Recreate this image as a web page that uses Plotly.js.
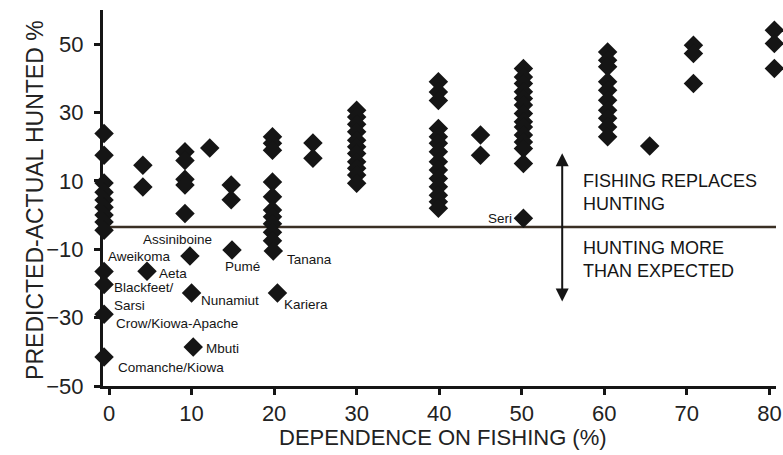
<!DOCTYPE html>
<html>
<head>
<meta charset="utf-8">
<script src="https://cdn.plot.ly/plotly-3.0.1.min.js"></script>
<style>html,body{margin:0;padding:0;background:#fff;}#chart{width:783px;height:455px;}</style>
</head>
<body>
<div id="chart"></div>
<script>
// Fishing dependence (%) of each column of societies
const fishPct = [-0.6, 4.1, 9.2, 12.2, 14.8, 19.8, 24.7, 30, 39.9, 45, 50.2, 60.4, 65.5, 70.8, 80.6];
// Predicted-actual hunted % for each column (unlabelled societies)
const hunt0  = [23.9, 17.5, 9.4, 6.7, 4.4, 2.3, 0, -2, -4.4];
const hunt4  = [14.6, 8.2];
const hunt9  = [18.5, 16, 10.5, 8.8, 0.5];
const hunt12 = [19.6];
const hunt15 = [8.8, 4.5];
const hunt20 = [22.9, 21, 19, 9.7, 5.4, 1.5, -0.5, -2.5, -5, -7.5];
const hunt25 = [21.1, 16.6];
const hunt30 = [30.7, 28.7, 26.6, 24.4, 21.9, 20, 18, 15.6, 13.7, 11.7, 9.3];
const hunt40 = [39, 36, 33.5, 25.3, 22.9, 21, 18.5, 15.6, 13.2, 10.7, 8.3, 5.8, 3.9, 2.0];
const hunt45 = [23.4, 17.5];
const hunt50 = [42.9, 40.4, 38.5, 36.1, 34.1, 32.2, 29.7, 27.3, 25.8, 23.4, 21.4, 19.5, 15.1];
const hunt60 = [47.7, 45.3, 43.4, 39, 36.5, 33.6, 30.7, 28.3, 25.8, 22.9];
const hunt65 = [20.2];
const hunt70 = [49.7, 47.3, 38.5];
const hunt80 = [54.1, 50.2, 42.9];
const huntCols = [hunt0, hunt4, hunt9, hunt12, hunt15, hunt20, hunt25, hunt30, hunt40, hunt45, hunt50, hunt60, hunt65, hunt70, hunt80];

// Labelled societies
const namedSoc  = ['Assiniboine/Aweikoma', 'Aeta', 'Blackfeet', 'Sarsi', 'Crow/Kiowa-Apache', 'Comanche/Kiowa', 'Pumé', 'Nunamiut', 'Tanana', 'Kariera', 'Mbuti', 'Seri'];
const namedFish = [9.8, 4.6, -0.6, -0.6, -0.6, -0.6, 14.9, 10, 19.9, 20.4, 10.2, 50.2];
const namedHunt = [-12, -16.4, -16.5, -20.3, -29, -41.5, -10.2, -22.8, -10.5, -22.8, -38.6, -0.9];

const yTicks = [-50, -30, -10, 10, 30, 50];
const xTicks = [0, 10, 20, 30, 40, 50, 60, 70, 80];
const zeroLine = -3.5;

const xs = [], ys = [];
huntCols.forEach((col, i) => col.forEach(v => { xs.push(fishPct[i]); ys.push(v); }));
namedFish.forEach((f, i) => { xs.push(f); ys.push(namedHunt[i]); });

const FONT = '"Liberation Sans", Arial, sans-serif';
const INK = '#151515';

const trace = {
  type: 'scatter', mode: 'markers', x: xs, y: ys, cliponaxis: false,
  marker: {symbol: 'diamond', size: 15, color: INK, line: {width: 0}},
  hoverinfo: 'skip'
};

function lab(text, x, y, xanchor) {
  return {text: text, x: x, y: y, xref: 'x', yref: 'y', showarrow: false,
          xanchor: xanchor, yanchor: 'middle', align: 'left',
          font: {family: FONT, size: 13.5, color: INK}};
}

const annotations = [
  lab('Assiniboine', 8.24, -7.0, 'center'),
  lab('Aweikoma', 7.8, -12.0, 'right'),
  lab('Aeta', 5.8, -17.0, 'left'),
  lab('Blackfeet/<br>Sarsi', 0.4, -23.8, 'left'),
  lab('Crow/Kiowa-Apache', 0.6, -31.7, 'left'),
  lab('Comanche/Kiowa', 0.9, -44.7, 'left'),
  lab('Pumé', 13.8, -15.1, 'left'),
  lab('Nunamiut', 10.9, -25.1, 'left'),
  lab('Mbuti', 11.5, -38.9, 'left'),
  lab('Tanana', 21.3, -12.9, 'left'),
  lab('Kariera', 21.0, -26.3, 'left'),
  lab('Seri', 49.0, -0.9, 'right'),
  {text: 'FISHING REPLACES<br>HUNTING', x: 57.2, y: 6.6, xref: 'x', yref: 'y', showarrow: false,
   xanchor: 'left', yanchor: 'middle', align: 'left', font: {family: FONT, size: 18, color: INK}},
  {text: 'HUNTING MORE<br>THAN EXPECTED', x: 57.2, y: -13, xref: 'x', yref: 'y', showarrow: false,
   xanchor: 'left', yanchor: 'middle', align: 'left', font: {family: FONT, size: 18, color: INK}},
  {text: '', x: 54.9, y: 18.1, ax: 54.9, ay: -25.7, xref: 'x', yref: 'y', axref: 'x', ayref: 'y',
   showarrow: true, arrowhead: 2, startarrowhead: 2, arrowside: 'end+start', arrowsize: 1.3, startarrowsize: 1.3,
   arrowwidth: 2, arrowcolor: INK},
  // axis titles
  {text: 'DEPENDENCE ON FISHING (%)', xref: 'paper', yref: 'paper', x: 0.5055, y: -0.138,
   xanchor: 'center', yanchor: 'middle', showarrow: false, font: {family: FONT, size: 22, color: '#222'}},
  {text: 'PREDICTED-ACTUAL HUNTED %', xref: 'paper', yref: 'paper', x: -0.101, y: 0.495, textangle: -90,
   xanchor: 'center', yanchor: 'middle', showarrow: false, font: {family: FONT, size: 23, color: '#222'}}
];

const layout = {
  width: 783, height: 455,
  margin: {l: 103, r: 7.4, t: 10, b: 69},
  paper_bgcolor: '#fff', plot_bgcolor: '#fff',
  showlegend: false,
  xaxis: {
    range: [-0.73, 80.8], tickvals: xTicks, showgrid: false, zeroline: false,
    showline: true, linewidth: 3, linecolor: INK,
    ticks: 'outside', ticklen: 6, tickwidth: 3, tickcolor: INK, ticklabelstandoff: 0,
    tickfont: {family: FONT, size: 22, color: '#222'}
  },
  yaxis: {
    range: [-50, 60], tickvals: yTicks, showgrid: false, zeroline: false,
    showline: true, linewidth: 3, linecolor: INK,
    ticks: 'outside', ticklen: 6, tickwidth: 3, tickcolor: INK, ticklabelstandoff: 6,
    tickfont: {family: FONT, size: 22, color: '#222'}
  },
  shapes: [
    {type: 'line', xref: 'x', yref: 'y', x0: -0.73, x1: 81.1, y0: zeroLine, y1: zeroLine,
     line: {color: '#3a2f24', width: 2.5}, layer: 'below'}
  ],
  annotations: annotations
};

Plotly.newPlot('chart', [trace], layout, {displayModeBar: false, staticPlot: true});
</script>
</body>
</html>
